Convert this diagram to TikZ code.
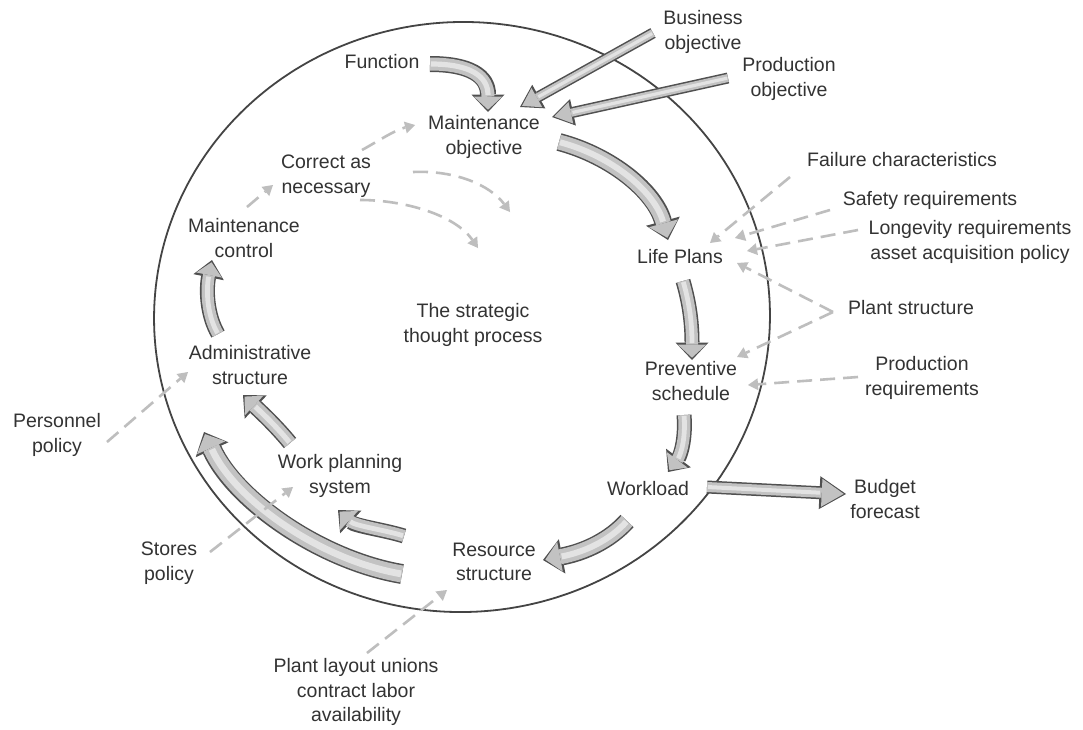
\documentclass[tikz,border=0pt]{standalone}
\usepackage{fontspec}
\setmainfont{Liberation Sans}
\usetikzlibrary{arrows.meta,calc}

\definecolor{txt}{HTML}{333333}
\definecolor{ring}{HTML}{444444}
\definecolor{aedge}{HTML}{505050}
\definecolor{abody}{HTML}{C2C2C2}
\definecolor{ahi}{HTML}{E3E3E3}
\definecolor{dashgray}{HTML}{BEBEBE}

% Broad shaded block arrow: #1 body width, #2 head width, #3 head length, #4 path
\newcommand\fatarrow[4]{%
  \pgfmathsetmacro\faW{#1+3}%
  \pgfmathsetmacro\faH{#2+5}%
  \pgfmathsetmacro\faL{#3+4.5}%
  \pgfmathsetmacro\faS{#3+4}%
  \draw[line width=\faW pt, draw=aedge,
        -{Triangle[width=\faH pt, length=\faL pt, line width=0pt]}] #4;
  \draw[line width=#1pt, draw=abody, shorten >=2.3pt,
        -{Triangle[width=#2pt, length=#3pt, line width=0pt]}] #4;
  \draw[line width=0.4*#1pt, draw=ahi, shorten >=\faS pt, shorten <=1pt] #4;
}

\begin{document}
\begin{tikzpicture}[x=1pt, y=-1pt,
  lbl/.style={align=center, inner sep=0pt, text=txt,
              font=\fontsize{19.5}{24.5}\selectfont},
  feed/.style={draw=dashgray, line width=2.6pt, dash pattern=on 15pt off 8pt,
               -{Triangle[width=12pt, length=10pt, line width=0pt]}},
]
\useasboundingbox (0,0) rectangle (1083,729);
\fill[white] (0,0) rectangle (1083,729);

% outer ring: slightly tilted ellipse
\draw[ring, line width=1.8pt]
  plot[domain=0:357, samples=120, smooth cycle, variable=\t]
  ({462+308*cos(\t)*cos(3)+295*sin(\t)*sin(3)},
   {317-308*cos(\t)*sin(3)+295*sin(\t)*cos(3)});

% labels
\node[lbl] (fn)  at (382,62)  {Function};
\node[lbl] (mo)  at (484,137) {Maintenance\\objective};
\node[lbl] (bo)  at (703,32)  {Business\\objective};
\node[lbl] (po)  at (789,79)  {Production\\objective};
\node[lbl] (cn)  at (326,176) {Correct as\\necessary};
\node[lbl] (mc)  at (244,238) {Maintenance\\control};
\node[lbl] (lp)  at (680,257) {Life Plans};
\node[lbl] (fc)  at (902,160) {Failure characteristics};
\node[lbl] (sr)  at (930,200) {Safety requirements};
\node[lbl] (lr)  at (970,242) {Longevity requirements\\asset acquisition policy};
\node[lbl] (pst) at (911,308) {Plant structure};
\node[lbl] (stp) at (473,325) {The strategic\\thought process};
\node[lbl] (as)  at (250,365) {Administrative\\structure};
\node[lbl] (pv)  at (691,381) {Preventive\\schedule};
\node[lbl] (pr)  at (922,378) {Production\\requirements};
\node[lbl] (pp)  at (57,435)  {Personnel\\policy};
\node[lbl] (wp)  at (340,476) {Work planning\\system};
\node[lbl] (wl)  at (648,489) {Workload};
\node[lbl] (bf)  at (885,499) {Budget\\forecast};
\node[lbl] (sp)  at (169,563) {Stores\\policy};
\node[lbl] (rs)  at (494,562) {Resource\\structure};
\node[lbl] (pl)  at (356,692) {Plant layout unions\\contract labor\\availability};

% connector end points
\coordinate (fn-o) at (430,64);   \coordinate (mo-i1) at (488,112);
\coordinate (bo-o) at (653,33);   \coordinate (mo-i2) at (520,107);
\coordinate (po-o) at (728,78);   \coordinate (mo-i3) at (552,117);
\coordinate (mo-o) at (559,142);  \coordinate (lp-i)  at (668,240);
\coordinate (lp-o) at (683,281);  \coordinate (pv-i)  at (692,360);
\coordinate (pv-o) at (684,415);  \coordinate (wl-i)  at (668,472);
\coordinate (wl-o1) at (707,487); \coordinate (bf-i)  at (846,494);
\coordinate (wl-o2) at (627,521); \coordinate (rs-i)  at (543,560);
\coordinate (rs-o1) at (404,536); \coordinate (wp-i)  at (338,510);
\coordinate (rs-o2) at (402,574); \coordinate (as-i1) at (204,432);
\coordinate (wp-o) at (290,443);  \coordinate (as-i2) at (243,395);
\coordinate (as-o) at (218,334);  \coordinate (mc-i)  at (212,260);

% main cycle of block arrows
\fatarrow{13}{28}{13}{(fn-o) .. controls (470,64) and (488,76) .. (mo-i1)}
\fatarrow{8}{22}{17}{(bo-o) -- (mo-i2)}
\fatarrow{8}{22}{17}{(po-o) -- (mo-i3)}
\fatarrow{15}{30}{15}{(mo-o) .. controls (612,156) and (655,192) .. (lp-i)}
\fatarrow{12}{28}{13}{(lp-o) .. controls (690,305) and (692,325) .. (pv-i)}
\fatarrow{12}{26}{13}{(pv-o) .. controls (686,440) and (680,456) .. (wl-i)}
\fatarrow{10}{28}{22}{(wl-o1) -- (bf-i)}
\fatarrow{15}{30}{15}{(wl-o2) .. controls (610,540) and (585,552) .. (rs-i)}
\fatarrow{12}{26}{13}{(rs-o1) .. controls (385,530) and (355,526) .. (wp-i)}
\fatarrow{17}{31}{15}{(rs-o2) .. controls (320,560) and (235,500) .. (as-i1)}
\fatarrow{13}{27}{13}{(wp-o) .. controls (276,426) and (262,413) .. (as-i2)}
\fatarrow{12}{26}{13}{(as-o) .. controls (207,315) and (206,290) .. (mc-i)}

% dashed influences
\coordinate (cn-o1) at (362,150);  \coordinate (mo-i4) at (415,125);
\coordinate (mc-o)  at (247,207);  \coordinate (cn-i)  at (273,185);
\coordinate (cn-o2) at (413,172);  \coordinate (cn-e2) at (510,212);
\coordinate (cn-o3) at (360,200);  \coordinate (cn-e3) at (478,248);
\coordinate (fc-o)  at (790,177);  \coordinate (lp-i1) at (710,243);
\coordinate (sr-o)  at (830,210);  \coordinate (lp-i2) at (735,238);
\coordinate (lr-o)  at (858,230);  \coordinate (lp-i3) at (747,251);
\coordinate (pst-o) at (833,312);  \coordinate (lp-i4) at (737,263);
                                   \coordinate (pv-i1) at (737,357);
\coordinate (pr-o)  at (858,377);  \coordinate (pv-i2) at (748,385);
\coordinate (pp-o)  at (107,442);  \coordinate (as-i3) at (188,372);
\coordinate (sp-o)  at (210,552);  \coordinate (wp-i2) at (293,487);
\coordinate (pl-o)  at (367,653);  \coordinate (rs-i2) at (447,590);

\draw[feed] (cn-o1) .. controls (380,140) and (395,130) .. (mo-i4);
\draw[feed] (mc-o) -- (cn-i);
\draw[feed] (cn-o2) .. controls (455,170) and (490,185) .. (cn-e2);
\draw[feed] (cn-o3) .. controls (405,200) and (455,215) .. (cn-e3);
\draw[feed] (fc-o) -- (lp-i1);
\draw[feed] (sr-o) -- (lp-i2);
\draw[feed] (lr-o) -- (lp-i3);
\draw[feed] (pst-o) -- (lp-i4);
\draw[feed] (pst-o) -- (pv-i1);
\draw[feed] (pr-o) -- (pv-i2);
\draw[feed] (pp-o) -- (as-i3);
\draw[feed] (sp-o) -- (wp-i2);
\draw[feed] (pl-o) -- (rs-i2);
\end{tikzpicture}
\end{document}
